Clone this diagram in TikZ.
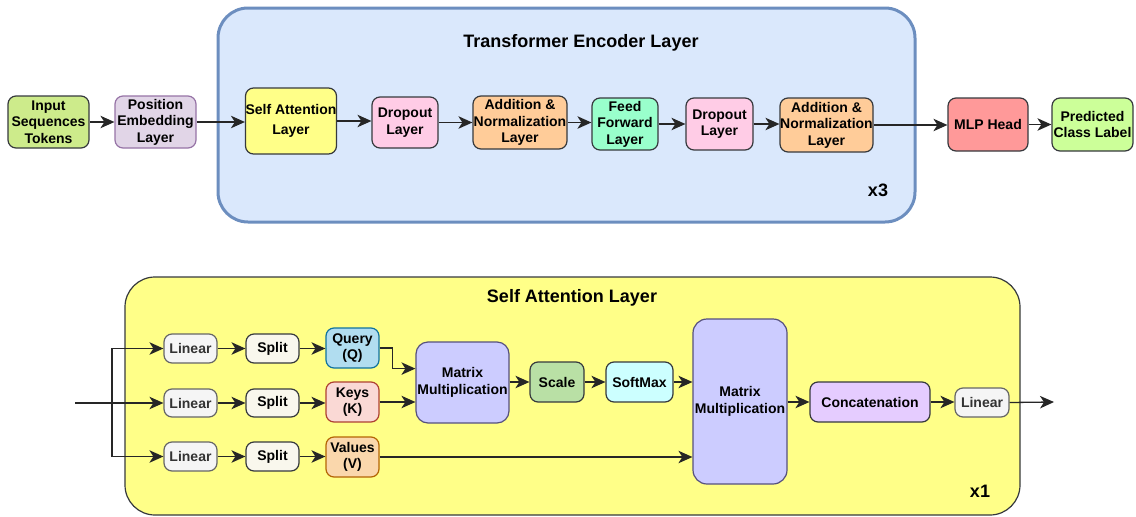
\documentclass[tikz,border=0pt]{standalone}
\usepackage{fontspec}
\setmainfont{Liberation Sans}
\usetikzlibrary{arrows.meta}
\definecolor{cin}{HTML}{CDEB8B}
\definecolor{cpos}{HTML}{E1D5E7}
\definecolor{cposb}{HTML}{9673A6}
\definecolor{csa}{HTML}{FFFF88}
\definecolor{cdk}{HTML}{36393D}
\definecolor{cdrop}{HTML}{FFCCE6}
\definecolor{cadd}{HTML}{FFCC99}
\definecolor{cff}{HTML}{99FFCC}
\definecolor{cmlp}{HTML}{FF9999}
\definecolor{cpred}{HTML}{CCFF99}
\definecolor{cenc}{HTML}{DAE8FC}
\definecolor{cencb}{HTML}{6C8EBF}
\definecolor{clin}{HTML}{F5F5F5}
\definecolor{clinb}{HTML}{666666}
\definecolor{clint}{HTML}{333333}
\definecolor{csplit}{HTML}{F9F7ED}
\definecolor{cq}{HTML}{B1DDF0}
\definecolor{cqb}{HTML}{10739E}
\definecolor{ck}{HTML}{FAD9D5}
\definecolor{ckb}{HTML}{AE4132}
\definecolor{cv}{HTML}{FAD7AC}
\definecolor{cvb}{HTML}{B46504}
\definecolor{cmm}{HTML}{CCCCFF}
\definecolor{cmmb}{HTML}{56517E}
\definecolor{cscale}{HTML}{B9E0A5}
\definecolor{csm}{HTML}{CCFFFF}
\definecolor{ccat}{HTML}{E5CCFF}
\tikzset{
  box/.style={draw=cdk, line width=1.2pt, rounded corners=8pt, align=center, inner sep=0pt,
    font=\fontsize{14}{16.5}\selectfont\bfseries, text=black},
  arr/.style={draw=black!85, line width=1.3pt, -{Stealth[length=14pt,width=12.5pt,inset=4pt]}},
  ln/.style={draw=black!85, line width=1.3pt},
  ttl/.style={font=\fontsize{18}{20}\selectfont\bfseries, inner sep=0pt},
}
\newcommand{\bx}[6]{% name, x1, y1, x2, y2, style
  \node[box, #6, minimum width={#4-#2}, minimum height={#5-#3}] (#1) at ({(#2+#4)/2},{(#3+#5)/2})}
\begin{document}
\begin{tikzpicture}[x=1pt,y=-1pt]
\useasboundingbox (0,0) rectangle (1136,517);
% containers
\draw[fill=cenc, draw=cencb, line width=3pt, rounded corners=30pt] (218,8) rectangle (915,222);
\node[ttl] (enct) at (581,43) {Transformer Encoder Layer};
\node[ttl] (x3) at (878,190) {x3};
\draw[fill=csa, draw=cdk, line width=1.2pt, rounded corners=30pt] (125,277) rectangle (1020,515);
\node[ttl] (sat) at (572,298) {Self Attention Layer};
\node[ttl] (x1) at (980,491) {x1};
% top row
\bx{in}{8}{96}{89}{148}{fill=cin}{Input\\Sequences\\Tokens};
\bx{pos}{115}{96}{196}{148}{fill=cpos, draw=cposb}{Position\\Embedding\\Layer};
\bx{sa}{246}{88}{336}{154}{fill=csa}{Self Attention\\[4pt]Layer};
\bx{do1}{372}{97}{438}{148}{fill=cdrop}{Dropout\\Layer};
\bx{an1}{473}{96}{567}{149}{fill=cadd}{Addition \&\\Normalization\\Layer};
\bx{ff}{592}{98}{658}{150}{fill=cff}{Feed\\Forward\\Layer};
\bx{do2}{686}{98}{753}{150}{fill=cdrop}{Dropout\\Layer};
\bx{an2}{780}{98}{873}{152}{fill=cadd}{Addition \&\\Normalization\\Layer};
\bx{mlp}{948}{98}{1028}{151}{fill=cmlp}{MLP Head};
\bx{pred}{1052}{98}{1133}{151}{fill=cpred}{Predicted\\Class Label};
\draw[arr] (in.east) -- (pos.west |- in.east);
\draw[arr] (pos.east) -- (sa.west |- pos.east);
\draw[arr] (sa.east) -- (do1.west |- sa.east);
\draw[arr] (do1.east) -- (an1.west |- do1.east);
\draw[arr] (an1.east) -- (ff.west |- an1.east);
\draw[arr] (ff.east) -- (do2.west |- ff.east);
\draw[arr] (do2.east) -- (an2.west |- do2.east);
\draw[arr] (an2.east) -- (mlp.west |- an2.east);
\draw[arr] (mlp.east) -- (pred.west |- mlp.east);
% bottom
\tikzset{lin/.style={fill=clin, draw=clinb, text=clint}}
\bx{l1}{164}{334}{217}{363}{lin}{Linear};
\bx{l2}{164}{389}{217}{417}{lin}{Linear};
\bx{l3}{164}{442}{217}{471}{lin}{Linear};
\bx{s1}{246}{334}{299}{363}{fill=csplit}{Split};
\bx{s2}{246}{389}{299}{417}{fill=csplit}{Split};
\bx{s3}{246}{442}{299}{471}{fill=csplit}{Split};
\bx{q}{326}{328}{379}{368}{fill=cq, draw=cqb}{Query\\(Q)};
\bx{k}{326}{382}{379}{422}{fill=ck, draw=ckb}{Keys\\(K)};
\bx{v}{326}{437}{379}{477}{fill=cv, draw=cvb}{Values\\(V)};
\bx{mm1}{416}{342}{509}{423}{fill=cmm, draw=cmmb, rounded corners=12pt}{Matrix\\Multiplication};
\bx{sc}{530}{362}{584}{402}{fill=cscale}{Scale};
\bx{sm}{606}{362}{673}{402}{fill=csm}{SoftMax};
\bx{mm2}{693}{319}{787}{484}{fill=cmm, draw=cmmb, rounded corners=14pt}{Matrix\\Multiplication};
\bx{cc}{810}{382}{930}{422}{fill=ccat}{Concatenation};
\bx{l4}{955}{388}{1009}{417}{lin}{Linear};
\coordinate (inp) at (75,403);
\coordinate (j) at (112,403);
\coordinate (out) at (1054,402);
\draw[ln] (inp) -- (j);
\draw[arr] (j) -- (l2.west |- j);
\draw[arr] (j) |- (l1.west);
\draw[arr] (j) |- (l3.west);
\draw[arr] (l1) -- (s1);
\draw[arr] (l2) -- (s2);
\draw[arr] (l3) -- (s3);
\draw[arr] (s1.east) -- (q.west |- s1.east);
\draw[arr] (s2.east) -- (k.west |- s2.east);
\draw[arr] (s3.east) -- (v.west |- s3.east);
\draw[arr] (q.east) -- ++(13,0) |- (mm1.west |- q.south);
\draw[arr] (k.east) -- (mm1.west |- k.east);
\draw[arr] (mm1.east |- sc.west) -- (sc.west);
\draw[arr] (sc) -- (sm);
\draw[arr] (sm.east) -- (mm2.west |- sm.east);
\draw[arr] (v.east) -- (mm2.west |- v.east);
\draw[arr] (mm2.east |- cc.west) -- (cc.west);
\draw[arr] (cc.east) -- (l4.west |- cc.east);
\draw[arr] (l4.east) -- (out);
\end{tikzpicture}
\end{document}
